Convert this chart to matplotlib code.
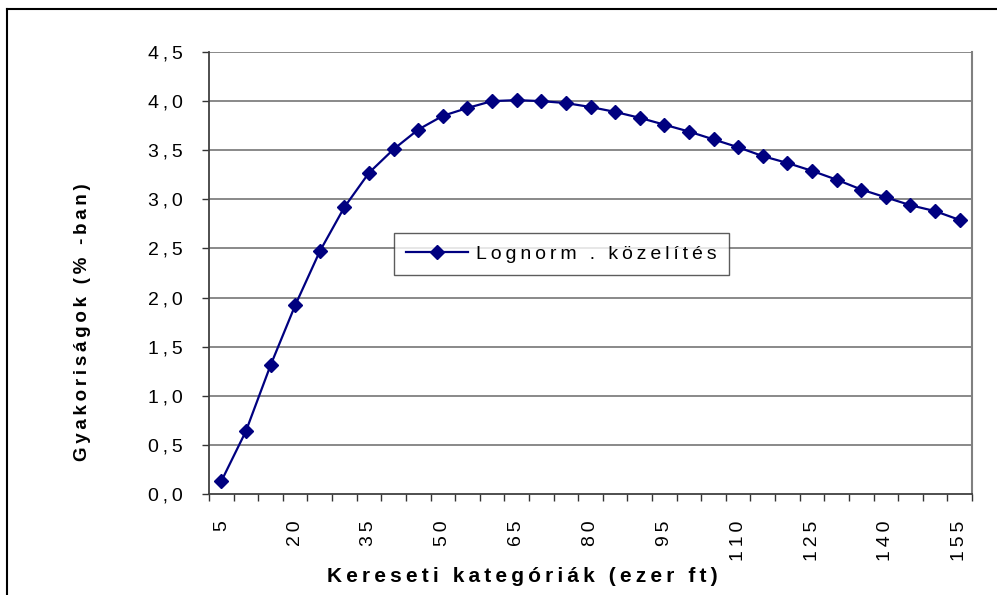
import matplotlib
matplotlib.use("Agg")
import matplotlib.pyplot as plt
from matplotlib.lines import Line2D
import numpy as np

# ---- data ----
categories = list(range(5, 160, 5))  # 5 .. 155 (ezer ft)
values = [0.13, 0.64, 1.31, 1.92, 2.47, 2.92, 3.27, 3.51, 3.71, 3.85,
          3.93, 4.00, 4.01, 4.00, 3.98, 3.94, 3.89, 3.83, 3.76, 3.69,
          3.61, 3.53, 3.44, 3.37, 3.29, 3.20, 3.10, 3.02, 2.94, 2.88, 2.79]
y_ticks = [0.0, 0.5, 1.0, 1.5, 2.0, 2.5, 3.0, 3.5, 4.0, 4.5]
x_label_every = 3
series_name = "Lognorm . közelítés"
x_title = "Kereseti kategóriák (ezer ft)"
y_title = "Gyakoriságok (% -ban)"

FONT = ['Liberation Sans', 'DejaVu Sans']
plt.rcParams['font.family'] = FONT

THIN = '\u2009'


def spaced(s, gap=THIN):
    words = s.split(' ')
    return (gap + ' ' + gap).join(gap.join(w) for w in words)


W, H = 997, 595
fig = plt.figure(figsize=(W / 100, H / 100), dpi=100)
L, T, R, B = 209, 52, 972, 494
ax = fig.add_axes([L / W, 1 - B / H, (R - L) / W, (B - T) / H])

navy = '#000080'
x = np.arange(len(categories))
ax.plot(x, values, color=navy, lw=1.6, marker='D', ms=7.2, mec=navy, mfc=navy,
        label=spaced(series_name), zorder=3)

ax.set_xlim(-0.5, len(categories) - 0.5)
ax.set_ylim(0, 4.5)

# y axis
ax.set_yticks(y_ticks)
ax.set_yticklabels([spaced(f"{v:.1f}".replace('.', ',')) for v in y_ticks])
ax.tick_params(axis='y', direction='out', length=5, width=1, color='#333333',
               pad=14, labelsize=14)
for v in y_ticks[1:]:
    ax.axhline(v, color='#808080', lw=1.3, zorder=1)

# x axis
major = x[::x_label_every]
ax.set_xticks(major)
ax.set_xticklabels([spaced(str(categories[i])) for i in major], rotation=90)
ax.set_xticks(np.arange(-0.5, len(categories), 1.0), minor=True)
ax.tick_params(axis='x', which='major', length=0, pad=19, labelsize=14)
ax.tick_params(axis='x', which='minor', direction='out', length=5, width=1,
               color='#333333')

ax.spines['top'].set_visible(False)
ax.spines['right'].set_color('#808080')
ax.spines['right'].set_linewidth(1.5)
ax.spines['left'].set_color('#404040')
ax.spines['bottom'].set_color('#404040')
ax.spines['left'].set_linewidth(1.3)
ax.spines['bottom'].set_linewidth(1.3)

# legend
leg = ax.legend(loc='upper left', bbox_to_anchor=((394 - L) / (R - L), (B - 233) / (B - T)),
                borderaxespad=0, frameon=True, fancybox=False, fontsize=14,
                handlelength=3.2, handletextpad=0.4, borderpad=0.62)
leg.get_frame().set_edgecolor('#333333')
leg.get_frame().set_linewidth(1.0)
leg.set_zorder(5)

# titles
fig.text(522 / W, 1 - 577 / H, spaced(x_title), ha='center', va='center',
         fontsize=15, fontweight='bold')
fig.text(83 / W, 1 - 322 / H, spaced(y_title), ha='center', va='center',
         rotation=90, fontsize=13.5, fontweight='bold')

# outer frame
fig.add_artist(Line2D([7 / W, 1.0], [1 - 9 / H, 1 - 9 / H], color='black', lw=1.5))
fig.add_artist(Line2D([7 / W, 7 / W], [0, 1 - 9 / H], color='black', lw=1.5))

fig.savefig('out.png', dpi=100)
